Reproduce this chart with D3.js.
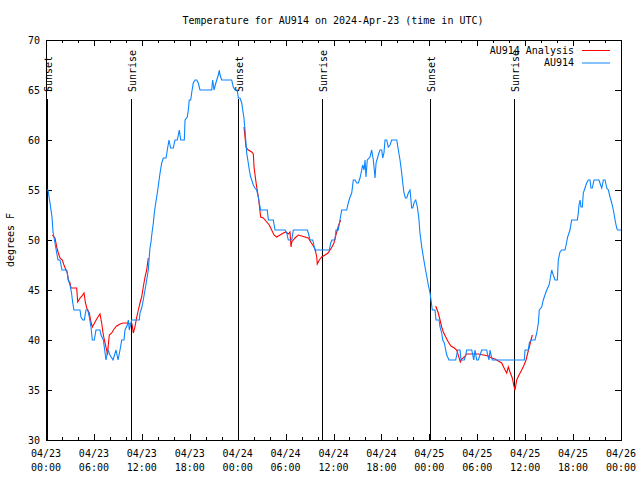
<!DOCTYPE html>
<html>
<head>
<meta charset="utf-8">
<script src="https://cdn.jsdelivr.net/npm/d3@7"></script>
<style>
  html, body { margin: 0; padding: 0; background: #fff; }
  svg { display: block; }
  text { font-family: "DejaVu Sans Mono", "Liberation Mono", monospace; font-size: 10px; fill: #000; }
</style>
</head>
<body>
<svg id="chart" width="640" height="480"></svg>
<script>
// ---------------- DATA ----------------
const chartTitle = "Temperature for AU914 on 2024-Apr-23 (time in UTC)";
const yAxisTitle = "degrees F";
const seriesNames = ["AU914 Analysis", "AU914"];

// hours since 2024-04-23 00:00 UTC
const tickHours = [0, 6, 12, 18, 24, 30, 36, 42, 48, 54, 60, 66, 72];
const tickDates = ["04/23", "04/23", "04/23", "04/23", "04/24", "04/24", "04/24", "04/24", "04/25", "04/25", "04/25", "04/25", "04/26"];
const tickTimes = ["00:00", "06:00", "12:00", "18:00", "00:00", "06:00", "12:00", "18:00", "00:00", "06:00", "12:00", "18:00", "00:00"];
const yTicks = [30, 35, 40, 45, 50, 55, 60, 65, 70];

const sunEventHours = [0.12, 10.65, 24.04, 34.56, 48.09, 58.6];
const sunEventNames = ["Sunset", "Sunrise", "Sunset", "Sunrise", "Sunset", "Sunrise"];

// AU914 observations
const obsHours = [0.06,0.25,0.5,0.75,0.88,1.21,1.5,1.75,2.0,2.6,2.8,3.0,3.2,3.35,3.5,4.26,4.38,4.6,4.8,5.0,5.22,5.42,5.63,5.8,6.05,6.26,6.76,6.89,7.18,7.3,7.51,7.76,8.01,8.39,8.77,9.02,9.27,9.48,9.77,9.89,10.18,10.31,10.43,10.73,11.68,11.77,11.98,12.18,12.4,12.61,12.81,12.9,13.02,13.15,13.27,13.44,13.56,13.74,13.94,14.11,14.28,14.49,14.69,15.03,15.19,15.4,15.61,15.94,16.15,16.44,16.69,16.87,17.32,17.41,17.69,17.82,17.94,18.12,18.24,18.44,18.66,18.87,19.07,19.28,20.75,20.87,21.04,21.2,21.38,21.58,21.7,21.79,22.0,23.25,23.45,23.67,23.95,24.08,24.29,24.51,24.63,24.79,24.92,25.04,25.13,25.33,25.46,25.63,25.76,25.96,26.17,26.38,26.59,26.71,26.88,27.71,27.84,28.46,28.68,29.93,30.14,30.34,30.77,30.97,32.72,32.85,33.06,33.4,33.68,35.47,35.65,35.81,36.19,36.31,36.6,36.81,37.03,37.65,37.85,38.07,38.28,38.48,38.69,38.91,39.11,39.32,39.66,39.82,39.95,40.07,40.23,40.57,40.78,40.99,41.2,41.33,41.61,41.82,42.04,42.16,42.32,42.45,42.66,42.86,43.08,43.29,43.92,44.12,44.33,44.54,44.67,44.83,45.0,45.17,45.37,45.58,45.79,45.92,46.12,46.3,46.5,46.67,46.83,47.05,47.25,47.46,47.67,47.87,48.09,48.21,48.37,48.71,48.84,49.21,49.34,49.55,49.67,49.88,50.05,50.18,50.46,51.3,51.43,51.55,51.84,51.97,52.38,52.56,52.68,53.31,53.56,53.72,53.93,54.13,54.35,54.56,55.18,55.31,55.47,55.6,55.72,55.89,59.89,59.98,60.39,60.52,60.73,61.23,61.45,61.65,61.77,62.07,62.27,62.48,62.7,62.99,63.11,63.32,63.52,63.74,64.03,64.15,64.36,64.57,64.99,65.2,65.32,65.61,65.82,66.53,66.65,66.74,66.87,66.99,67.16,67.28,67.49,67.7,67.91,68.12,68.24,68.41,68.62,69.25,69.44,69.59,69.79,70.0,70.22,70.42,70.63,70.84,71.04,71.26,71.46,71.58,72.0];
const obsTemps = [55,55,53.7,52.3,50.8,49.3,48,48,47,47,46,45.5,44.7,43.7,43,43,42.3,42,42,43,43,42.3,41.3,40,40,41,41,40.5,40,39.3,38,39,38.5,38,39,38,39,40,40,41,41.5,42,41,42,42,42.7,43.2,44,45,46,47,48,49.2,49.8,50.7,51.7,52.7,53.7,54.7,55.7,56.7,57.7,58.2,58.2,59,60,59.2,59.2,60,60,61,60,60,62,62.3,63,64,64,64.7,65.7,66,66,65.7,65,65,66,65,65.5,66,66.5,67,66.5,66,66,65.3,65,65,64.2,64.2,63.7,63,62.2,61,59.7,58.7,57.7,57,56.3,56,55.5,55.2,55,54.3,53.7,53,53,52,52,51,51,50.7,50,50,51,51,50.7,50,50,49,49,49.7,50,50,51,51,52,53,53,53.7,54.3,54.7,56,56,55.7,55.7,56.2,57.5,57,58,56.3,58,58.3,59,58,56.2,57.7,58.5,59,59,58.2,58.7,60,60,59.3,59.5,60,60,59,58,56.7,55.7,54.7,54.2,54.2,54.7,55,53.2,53.2,53.8,54,53.3,52.3,50.7,49.3,48.3,47.3,46.4,45.5,44.7,44,43,43,42,42,41.3,40.7,40,39.7,39,38.5,38,38,38.5,39,39,38,38,38.5,39,39,38,39,38,38,38.5,39,39,38.5,38,39,38.5,38,38,39,39,39.7,40,40,40.7,41.7,43,43.3,44,44.5,45,45.5,46,47,46.5,46,46,48,48.8,49,49,49.8,50.3,51,52,52,52.7,53.5,54,53.3,53.3,54.7,55.2,55.7,56,56,55.2,55.2,56,56,55.5,55.2,56,56,55.2,55,54.3,53.7,53,52,51.2,51,51];

// AU914 Analysis (three runs)
const analysis1Hours = [0.79,1.13,1.34,1.54,1.75,2.04,2.25,2.5,2.67,2.79,3.01,3.13,3.84,3.97,4.26,4.51,4.76,4.92,5.1,5.42,5.63,5.8,6.14,6.42,6.76,6.97,7.18,7.39,7.6,7.7,7.8,7.93,8.23,8.52,8.85,9.27,9.68,10.18,10.52,10.77,10.93,11.14,11.36,11.56,11.77,11.98,12.18,12.4,12.61,12.81];
const analysis1Temps = [50.5,50.2,49.3,48.7,48.2,48,47.5,47,46.7,46,45.7,45.2,45.2,43.8,44.2,44.4,44.7,43.8,43.2,42.7,41.8,41.3,41.8,42.2,42.6,41.7,40.5,39.7,39,38.5,39.5,40.5,40.7,41.1,41.4,41.6,41.7,41.7,41.6,41.6,40.7,41.3,42.3,43,43.7,44.3,45.3,46.3,47,48.2];
const analysis2Hours = [24.79,24.92,25.04,25.33,25.76,25.96,26.05,26.26,26.38,26.59,26.71,26.88,27.21,27.64,27.96,28.26,28.55,28.89,29.3,29.72,30.05,30.34,30.55,30.68,30.77,31.18,31.59,32.02,32.43,32.85,33.15,33.4,33.68,33.9,33.97,34.22,34.52,34.94,35.31,35.73,36.06,36.23,36.48,36.65,36.9];
const analysis2Temps = [61.3,60.3,59.3,59,58.8,58.6,57.3,56,55.3,54.3,53.5,52.3,52.2,51.8,51.5,51,50.5,50.3,50.5,50.7,50.8,50.6,50.8,49.3,49.8,50.2,50.5,50.4,50.3,50.2,49.8,49.5,49.1,48.3,47.6,48,48.3,48.5,48.7,49.2,49.7,50.3,51,51.5,52];
const analysis3Hours = [48.8,49.12,49.34,49.55,49.75,50.05,50.38,50.71,51.13,51.43,51.88,52.05,52.38,52.68,53.31,54.13,54.76,55.38,55.81,56.22,56.64,57.06,57.48,57.69,57.89,58.1,58.39,58.56,58.73,58.94,59.23,59.57,59.86,60.11,60.32,60.52,60.73,60.9];
const analysis3Temps = [43.4,42.7,42,41.3,40.8,40.3,39.8,39.4,39.2,39,37.8,38.1,38.3,38.6,38.6,38.6,38.5,38.4,38.2,38.1,37.9,37.7,37,36.7,37.3,36.8,36.2,35.5,35,36,36.5,37,37.5,38,38.7,39.3,40,40.5];

// ---------------- CHART ----------------
const W = 640, H = 480;
const margin = {left: 46, right: 19, top: 40, bottom: 40};
const svg = d3.select("#chart");

const t0 = Date.UTC(2024, 3, 23, 0, 0);
const toDate = h => new Date(t0 + h * 3600 * 1000);

const x = d3.scaleUtc()
  .domain([toDate(0), toDate(72)])
  .range([margin.left, W - margin.right]);
const y = d3.scaleLinear()
  .domain([30, 70])
  .range([H - margin.bottom, margin.top]);

const plotL = margin.left, plotR = W - margin.right, plotT = margin.top, plotB = H - margin.bottom;

// ticks
const minorHours = d3.range(0, 73, 2).filter(h => h % 6 !== 0);

function styleAxis(g) {
  g.select(".domain").remove();
  g.selectAll("line").attr("stroke", "#000").attr("shape-rendering", "crispEdges");
}

// bottom major
const bottomAxis = svg.append("g")
  .attr("transform", `translate(0,${plotB})`)
  .call(d3.axisBottom(x).tickValues(tickHours.map(toDate)).tickSizeInner(-6).tickSizeOuter(0).tickFormat(""));
styleAxis(bottomAxis);
bottomAxis.selectAll("text").remove();
// bottom minor
const bottomMinor = svg.append("g")
  .attr("transform", `translate(0,${plotB})`)
  .call(d3.axisBottom(x).tickValues(minorHours.map(toDate)).tickSizeInner(-3).tickSizeOuter(0).tickFormat(""));
styleAxis(bottomMinor);
// top major + minor
const topAxis = svg.append("g")
  .attr("transform", `translate(0,${plotT})`)
  .call(d3.axisTop(x).tickValues(tickHours.map(toDate)).tickSizeInner(-6).tickSizeOuter(0).tickFormat(""));
styleAxis(topAxis);
const topMinor = svg.append("g")
  .attr("transform", `translate(0,${plotT})`)
  .call(d3.axisTop(x).tickValues(minorHours.map(toDate)).tickSizeInner(-3).tickSizeOuter(0).tickFormat(""));
styleAxis(topMinor);

// x tick labels (two lines)
const xl = svg.append("g");
tickHours.forEach((h, i) => {
  const t = xl.append("text")
    .attr("x", x(toDate(h)))
    .attr("text-anchor", "middle");
  t.append("tspan").attr("x", x(toDate(h))).attr("y", plotB + 17).text(tickDates[i]);
  t.append("tspan").attr("x", x(toDate(h))).attr("y", plotB + 31).text(tickTimes[i]);
});

// y axes
const leftAxis = svg.append("g")
  .attr("transform", `translate(${plotL},0)`)
  .call(d3.axisLeft(y).tickValues(yTicks).tickSizeInner(-6).tickSizeOuter(0).tickPadding(6).tickFormat(d3.format("d")));
styleAxis(leftAxis);
leftAxis.selectAll("text").attr("fill", "#000").style("font-size", "10px")
  .style("font-family", '"DejaVu Sans Mono", "Liberation Mono", monospace');
const rightAxis = svg.append("g")
  .attr("transform", `translate(${plotR},0)`)
  .call(d3.axisRight(y).tickValues(yTicks).tickSizeInner(-6).tickSizeOuter(0).tickFormat(""));
styleAxis(rightAxis);

// sun events
const sun = svg.append("g");
sunEventHours.forEach((h, i) => {
  const sx = Math.round(x(toDate(h))) + 0.5;
  sun.append("line")
    .attr("x1", sx).attr("x2", sx)
    .attr("y1", 99).attr("y2", plotB)
    .attr("stroke", "#000").attr("stroke-width", 1);
  sun.append("text")
    .attr("transform", `translate(${sx + 4.5},92) rotate(-90)`)
    .attr("text-anchor", "start")
    .text(sunEventNames[i]);
});

// lines
const line = d3.line()
  .x(d => x(toDate(d[0])))
  .y(d => y(d[1]));

const analysisRuns = [
  d3.zip(analysis1Hours, analysis1Temps),
  d3.zip(analysis2Hours, analysis2Temps),
  d3.zip(analysis3Hours, analysis3Temps)
];
const obs = d3.zip(obsHours, obsTemps);

const redColor = "#ff0000", blueColor = "#0a84ff";

svg.append("g").selectAll("path")
  .data(analysisRuns)
  .join("path")
  .attr("d", line)
  .attr("fill", "none")
  .attr("stroke", redColor)
  .attr("stroke-width", 1.1);

svg.append("path")
  .datum(obs)
  .attr("d", line)
  .attr("fill", "none")
  .attr("stroke", blueColor)
  .attr("stroke-width", 1.1);

// frame
svg.append("rect")
  .attr("x", plotL + 0.5).attr("y", plotT + 0.5)
  .attr("width", plotR - plotL).attr("height", plotB - plotT)
  .attr("fill", "none").attr("stroke", "#000").attr("stroke-width", 1);

// title
svg.append("text")
  .attr("x", 333).attr("y", 24)
  .attr("text-anchor", "middle")
  .text(chartTitle);

// y axis title
svg.append("text")
  .attr("transform", `translate(14,240) rotate(-90)`)
  .attr("text-anchor", "middle")
  .text(yAxisTitle);

// legend
const legend = svg.append("g");
[redColor, blueColor].forEach((c, i) => {
  const ly = 50 + i * 12.5;
  legend.append("text")
    .attr("x", 574).attr("y", ly + 3.5)
    .attr("text-anchor", "end")
    .text(seriesNames[i]);
  legend.append("line")
    .attr("x1", 582).attr("x2", 610)
    .attr("y1", ly + 0.5).attr("y2", ly + 0.5)
    .attr("stroke", c).attr("stroke-width", 1);
});
</script>
</body>
</html>
